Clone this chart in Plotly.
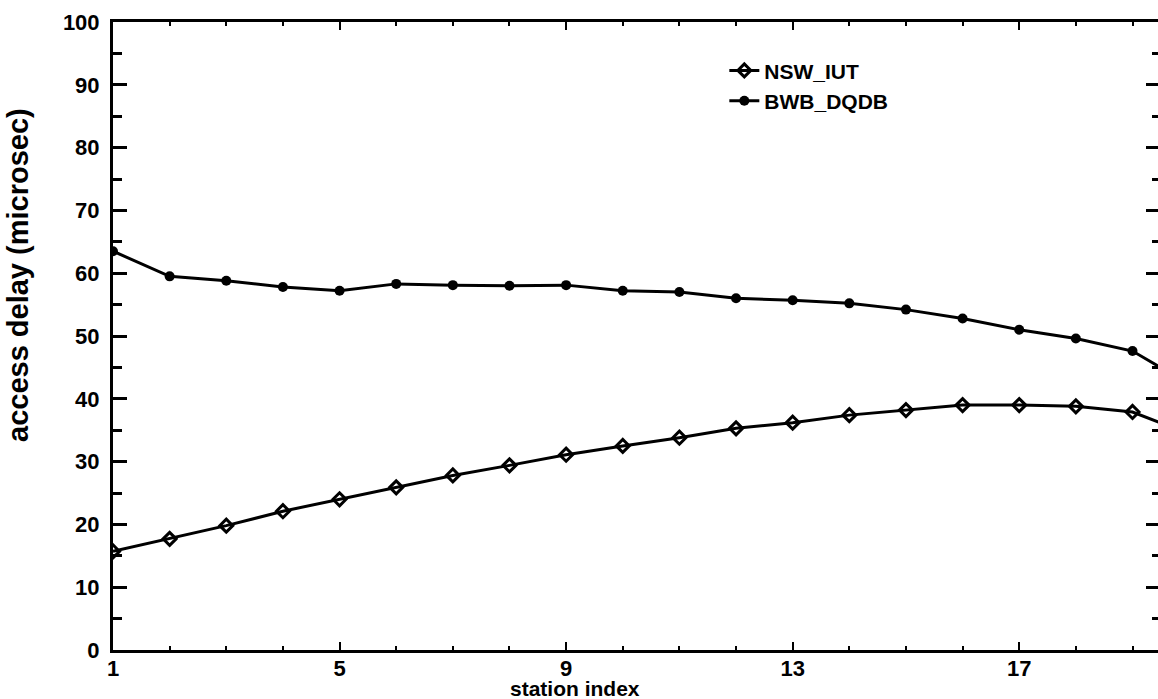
import plotly.graph_objects as go

stations = list(range(1, 21))
nsw_iut = [15.7, 17.7, 19.8, 22.1, 24.0, 25.9, 27.8, 29.4, 31.1, 32.5,
           33.8, 35.3, 36.2, 37.4, 38.2, 39.0, 39.0, 38.8, 37.9, 34.4]
bwb_dqdb = [63.5, 59.5, 58.8, 57.8, 57.2, 58.3, 58.1, 58.0, 58.1, 57.2,
            57.0, 56.0, 55.7, 55.2, 54.2, 52.8, 51.0, 49.6, 47.6, 42.3]
x_ticks = [1, 5, 9, 13, 17]
y_ticks = [0, 10, 20, 30, 40, 50, 60, 70, 80, 90, 100]

FONT = "Liberation Sans, Arial, sans-serif"

fig = go.Figure()
fig.add_trace(go.Scatter(
    x=stations, y=nsw_iut, name="NSW_IUT", mode="lines+markers",
    line=dict(color="black", width=3),
    marker=dict(symbol="diamond-open", size=10, color="black", line=dict(width=3, color="black")),
    cliponaxis=True,
))
fig.add_trace(go.Scatter(
    x=stations, y=bwb_dqdb, name="BWB_DQDB", mode="lines+markers",
    line=dict(color="black", width=3),
    marker=dict(symbol="circle", size=10, color="black"),
    cliponaxis=True,
))
# invisible trace to carry the right-hand axis ticks
fig.add_trace(go.Scatter(x=[stations[0]], y=[y_ticks[0]], yaxis="y2", mode="markers",
                         marker=dict(opacity=0), showlegend=False, hoverinfo="skip"))

fig.update_layout(
    width=1158, height=699,
    margin=dict(l=113, r=0, t=22, b=49),
    paper_bgcolor="white", plot_bgcolor="white",
    font=dict(family=FONT, color="black", size=22, weight="bold"),
    showlegend=True,
    legend=dict(x=0.585, y=0.955, xanchor="left", yanchor="top",
                bgcolor="rgba(0,0,0,0)", font=dict(size=21, weight="bold"),
                tracegroupgap=0, itemwidth=30),
    xaxis=dict(
        range=[1, 19.45], tickvals=x_ticks, ticktext=[str(v) for v in x_ticks],
        showgrid=False, zeroline=False,
        showline=True, linecolor="black", linewidth=3, mirror="ticks",
        ticks="inside", ticklen=8, tickwidth=2, tickcolor="black",
        minor=dict(dtick=1, tick0=1, ticks="inside", ticklen=4, tickwidth=2, tickcolor="black"),
        tickfont=dict(size=22, family=FONT, weight="bold"),
        ticklabelstandoff=-3,
    ),
    yaxis=dict(
        range=[0, 100], tickvals=y_ticks, ticktext=[str(v) for v in y_ticks],
        showgrid=False, zeroline=False,
        showline=True, linecolor="black", linewidth=3,
        ticks="inside", ticklen=14, tickwidth=3, tickcolor="black",
        minor=dict(dtick=5, tick0=0, ticks="inside", ticklen=9, tickwidth=3, tickcolor="black"),
        tickfont=dict(size=22, family=FONT, weight="bold"),
        ticklabelstandoff=6,
    ),
    yaxis2=dict(
        range=[0, 100], overlaying="y", side="right", tickvals=y_ticks,
        showticklabels=False, showgrid=False, zeroline=False, showline=False,
        ticks="inside", ticklen=12, tickwidth=3, tickcolor="black",
        minor=dict(dtick=5, tick0=0, ticks="inside", ticklen=6, tickwidth=3, tickcolor="black"),
    ),
    annotations=[
        dict(text="station index", xref="paper", yref="paper",
             x=0.442, y=0, yshift=-25, xanchor="center", yanchor="top",
             showarrow=False, font=dict(size=21, family=FONT, weight="bold")),
        dict(text="access delay (microsec)", xref="paper", yref="paper",
             x=-0.091, y=0.597, xanchor="center", yanchor="middle", textangle=-90,
             showarrow=False, font=dict(size=29, family=FONT, weight="bold")),
    ],
)

fig.write_html("out.html")
